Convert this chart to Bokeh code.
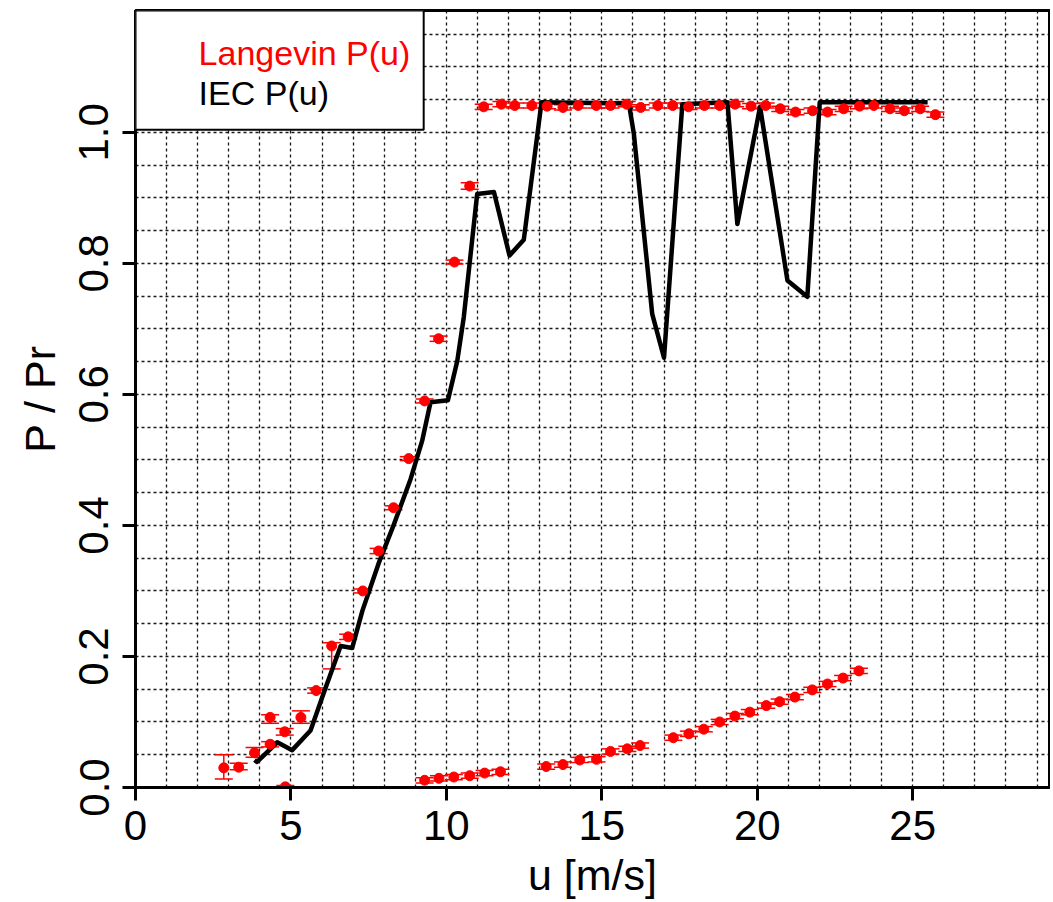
from bokeh.plotting import figure
from bokeh.models import (ColumnDataSource, Range1d, FixedTicker, SingleIntervalTicker,
                          Whisker, TeeHead, BoxAnnotation, Label)
from bokeh.embed import file_html
from bokeh.resources import INLINE

# ---------------- data ----------------
# Langevin power curve estimate (red points with error bars)
lang_u_low = [2.84, 3.32, 3.83, 4.33, 4.33, 4.80, 4.82, 5.32, 5.81, 6.31, 6.84, 7.31, 7.82,
              8.30, 8.79, 9.30, 9.75, 10.26, 10.75]
lang_p_low = [0.030, 0.031, 0.053, 0.066, 0.107, 0.085, 0.001, 0.107, 0.148, 0.216, 0.230,
              0.300, 0.361, 0.427, 0.502, 0.590, 0.685, 0.802, 0.918]
lang_elo_low = [0.017, 0.004, 0.007, 0.004, 0.009, 0.005, 0.002, 0.009, 0.004, 0.035, 0.004,
                0.003, 0.004, 0.003, 0.003, 0.003, 0.004, 0.003, 0.005]
lang_ehi_low = [0.020, 0.006, 0.008, 0.004, 0.004, 0.005, 0.002, 0.010, 0.004, 0.005, 0.004,
                0.003, 0.004, 0.003, 0.003, 0.003, 0.004, 0.003, 0.005]

lang_u_top = [11.20, 11.77, 12.20, 12.75, 13.24, 13.75, 14.24, 14.82, 15.28, 15.80, 16.25,
              16.80, 17.28, 17.79, 18.30, 18.79, 19.29, 19.80, 20.27, 20.74, 21.23, 21.78,
              22.26, 22.78, 23.29, 23.75, 24.27, 24.73, 25.24, 25.73]
lang_p_top = [1.039, 1.043, 1.041, 1.041, 1.040, 1.038, 1.041, 1.041, 1.041, 1.043, 1.038,
              1.041, 1.041, 1.039, 1.041, 1.041, 1.043, 1.040, 1.041, 1.036, 1.031, 1.033,
              1.031, 1.036, 1.040, 1.041, 1.036, 1.033, 1.036, 1.027]

lang_u_bot = [9.30, 9.76, 10.24, 10.75, 11.23, 11.74, 13.21, 13.75, 14.29, 14.83, 15.28,
              15.82, 16.23, 17.30, 17.80, 18.28, 18.79, 19.28, 19.76, 20.29, 20.72, 21.21,
              21.77, 22.26, 22.76, 23.27]
lang_p_bot = [0.011, 0.014, 0.016, 0.018, 0.022, 0.024, 0.032, 0.035, 0.042, 0.043, 0.055,
              0.059, 0.064, 0.076, 0.082, 0.089, 0.100, 0.109, 0.115, 0.125, 0.131, 0.138,
              0.149, 0.158, 0.167, 0.178]
lang_err_small = 0.004

# IEC binned power curve (black line)
iec_u = [3.83, 3.91, 4.56, 5.04, 5.63, 6.06, 6.60, 6.97, 7.30, 7.82, 8.30, 8.85, 9.22, 9.49,
         10.05, 10.35, 10.56, 10.99, 11.53, 12.03, 12.49, 13.06, 15.87, 16.03, 16.62, 17.00,
         17.59, 19.04, 19.36, 20.09, 20.97, 21.61, 22.01, 25.48]
iec_p = [0.042, 0.039, 0.069, 0.057, 0.087, 0.145, 0.216, 0.213, 0.270, 0.342, 0.400, 0.471,
         0.529, 0.588, 0.591, 0.651, 0.718, 0.906, 0.909, 0.812, 0.836, 1.046, 1.044, 0.998,
         0.723, 0.656, 1.043, 1.046, 0.860, 1.039, 0.774, 0.749, 1.046, 1.046]

x_ticks = [0, 5, 10, 15, 20, 25]
y_ticks = [0.0, 0.2, 0.4, 0.6, 0.8, 1.0]
y_tick_labels = {0.0: "0.0", 0.2: "0.2", 0.4: "0.4", 0.6: "0.6", 0.8: "0.8", 1.0: "1.0"}

legend_texts = ["Langevin P(u)", "IEC P(u)"]

# ---------------- build sources ----------------
u_all = lang_u_low + lang_u_top + lang_u_bot
p_all = lang_p_low + lang_p_top + lang_p_bot
elo = lang_elo_low + [lang_err_small] * (len(lang_u_top) + len(lang_u_bot))
ehi = lang_ehi_low + [lang_err_small] * (len(lang_u_top) + len(lang_u_bot))
lang_src = ColumnDataSource(dict(
    u=u_all, p=p_all,
    lower=[p - e for p, e in zip(p_all, elo)],
    upper=[p + e for p, e in zip(p_all, ehi)],
))
iec_src = ColumnDataSource(dict(u=iec_u, p=iec_p))

FONT = "Liberation Sans"

p = figure(width=1050, height=901, output_backend="svg", toolbar_location=None,
           x_range=Range1d(0, 29.4), y_range=Range1d(0, 1.186),
           min_border_left=135, min_border_right=1, min_border_top=10, min_border_bottom=114)
p.background_fill_color = "white"
p.border_fill_color = "white"
p.outline_line_color = "black"
p.outline_line_width = 3

# grid
p.xgrid.ticker = SingleIntervalTicker(interval=1, num_minor_ticks=0)
p.ygrid.ticker = SingleIntervalTicker(interval=0.05, num_minor_ticks=0)
for g in (p.xgrid, p.ygrid):
    g.grid_line_color = "black"
    g.grid_line_dash = "3 3"
    g.grid_line_width = 1.3
    g.grid_line_alpha = 0.9

# axes
p.xaxis.ticker = FixedTicker(ticks=x_ticks)
p.yaxis.ticker = FixedTicker(ticks=y_ticks)
p.yaxis.major_label_overrides = y_tick_labels
for ax in (p.xaxis, p.yaxis):
    ax.axis_line_width = 3
    ax.axis_line_color = "black"
    ax.major_tick_line_width = 3
    ax.major_tick_out = 13
    ax.major_tick_in = 0
    ax.minor_tick_line_color = None
    ax.major_label_text_font = FONT
    ax.major_label_text_font_size = "42px"
    ax.major_label_text_color = "black"
    ax.axis_label_text_font = FONT
    ax.axis_label_text_font_size = "43px"
    ax.axis_label_text_font_style = "normal"
    ax.axis_label_text_color = "black"
p.xaxis.axis_label = "u [m/s]"
p.yaxis.axis_label = "P / Pr"
p.xaxis.major_label_standoff = 10
p.xaxis.axis_label_standoff = 8
p.yaxis.major_label_standoff = 14
p.yaxis.axis_label_standoff = 13
p.yaxis.major_label_orientation = "vertical"

# IEC line
p.line("u", "p", source=iec_src, line_color="black", line_width=4.5, line_join="round")

# Langevin points + error bars
p.add_layout(Whisker(source=lang_src, base="u", lower="lower", upper="upper",
                     dimension="height", line_color="red", line_width=1.5,
                     upper_head=TeeHead(size=18, line_color="red", line_width=1.5),
                     lower_head=TeeHead(size=18, line_color="red", line_width=1.5)))
p.scatter("u", "p", source=lang_src, marker="circle", size=10,
          fill_color="red", line_color="red")

# legend box (text only, as in the original)
p.add_layout(BoxAnnotation(right=9.27, bottom=1.004, fill_color="white", fill_alpha=1.0,
                           line_color="black", line_width=2, line_alpha=1.0))
p.add_layout(Label(x=2.03, y=1.121, text=legend_texts[0], text_color="red",
                   text_font=FONT, text_font_size="34px", text_baseline="middle"))
p.add_layout(Label(x=2.03, y=1.060, text=legend_texts[1], text_color="black",
                   text_font=FONT, text_font_size="34px", text_baseline="middle"))

open("out.html", "w").write(file_html(p, INLINE))
